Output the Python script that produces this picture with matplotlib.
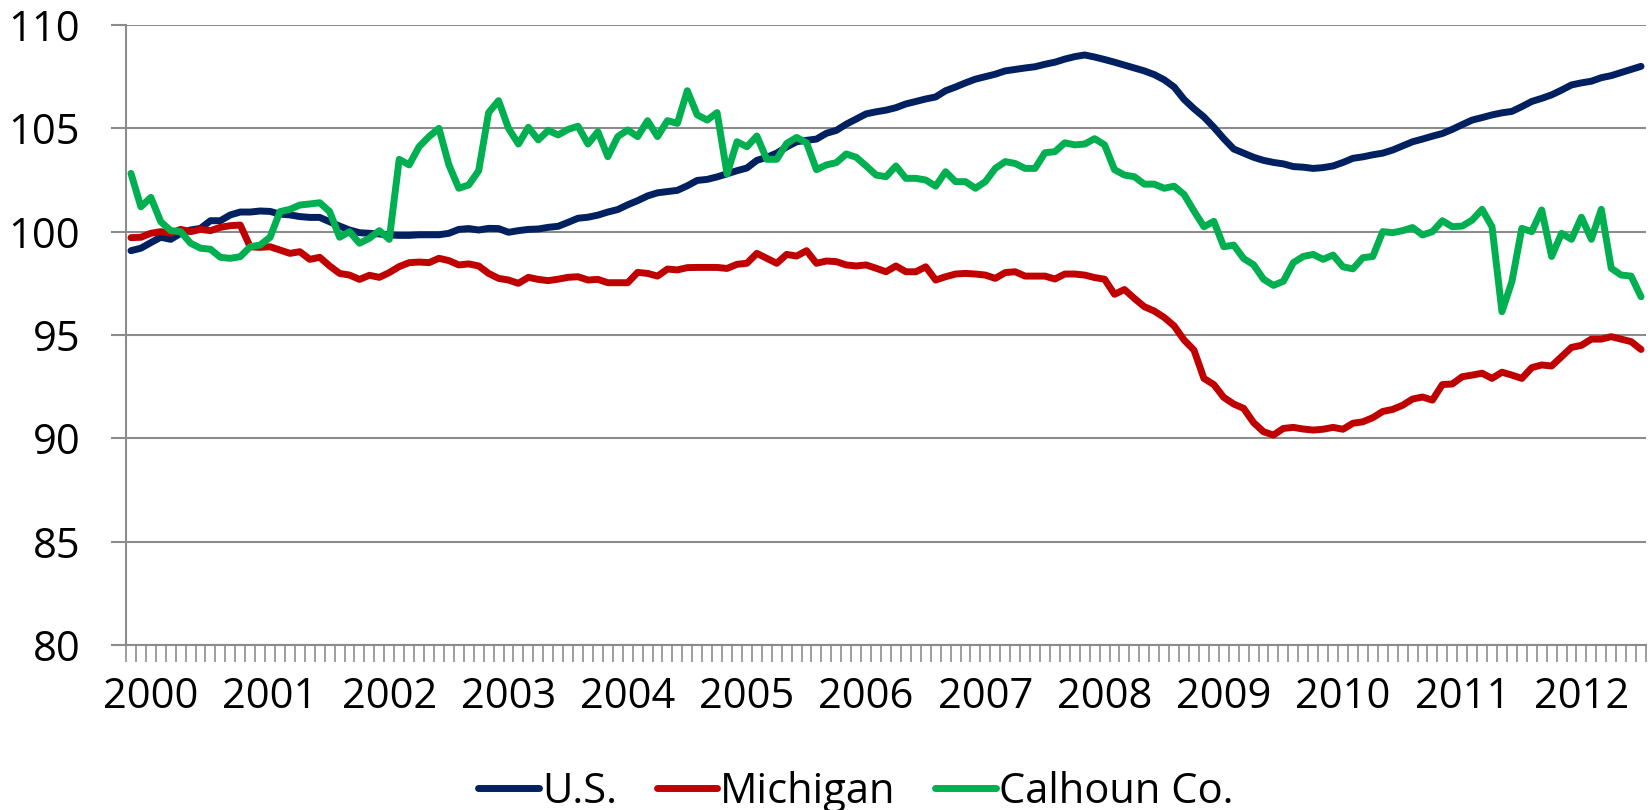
import numpy as np
import matplotlib
matplotlib.use("Agg")
import matplotlib.pyplot as plt

# monthly index, Jan 2000 .. Sep 2012
years = [str(y) for y in range(2000, 2013)]

us = [
    99.08, 99.20, 99.47, 99.73, 99.63, 99.92, 100.08, 100.16, 100.53, 100.53, 100.81, 100.95,
    100.95, 101.00, 100.98, 100.85, 100.81, 100.73, 100.69, 100.69, 100.48, 100.27, 100.08, 99.95,
    99.92, 99.89, 99.84, 99.82, 99.82, 99.85, 99.85, 99.85, 99.92, 100.11, 100.15, 100.08,
    100.16, 100.15, 99.97, 100.05, 100.11, 100.13, 100.21, 100.26, 100.45, 100.65, 100.70, 100.80,
    100.95, 101.07, 101.30, 101.50, 101.73, 101.88, 101.94, 102.00, 102.22, 102.48, 102.53, 102.65,
    102.80, 102.95, 103.08, 103.45, 103.60, 103.80, 104.10, 104.35, 104.42, 104.48, 104.76, 104.90,
    105.20, 105.45, 105.70, 105.80, 105.88, 106.00, 106.18, 106.30, 106.42, 106.52, 106.82, 107.00,
    107.20, 107.38, 107.50, 107.62, 107.78, 107.85, 107.92, 107.98, 108.10, 108.20, 108.35, 108.47,
    108.55, 108.45, 108.33, 108.20, 108.06, 107.92, 107.78, 107.60, 107.35, 107.00, 106.40, 105.95,
    105.55, 105.05, 104.50, 104.00, 103.80, 103.60, 103.45, 103.35, 103.28, 103.15, 103.12, 103.06,
    103.10, 103.18, 103.35, 103.55, 103.62, 103.72, 103.80, 103.95, 104.15, 104.35, 104.48, 104.62,
    104.75, 104.95, 105.18, 105.40, 105.52, 105.65, 105.75, 105.82, 106.05, 106.30, 106.45, 106.62,
    106.85, 107.10, 107.20, 107.28, 107.45, 107.55, 107.70, 107.85, 108.00,
]

michigan = [
    99.71, 99.73, 99.92, 100.00, 99.92, 100.11, 100.00, 100.11, 100.05, 100.21, 100.29, 100.32,
    99.27, 99.24, 99.27, 99.11, 98.95, 99.03, 98.66, 98.76, 98.34, 97.98, 97.90, 97.69,
    97.89, 97.79, 98.02, 98.31, 98.50, 98.53, 98.50, 98.71, 98.60, 98.39, 98.44, 98.34,
    97.98, 97.74, 97.66, 97.50, 97.79, 97.69, 97.63, 97.70, 97.79, 97.82, 97.66, 97.69,
    97.53, 97.53, 97.53, 98.03, 97.98, 97.85, 98.19, 98.15, 98.26, 98.27, 98.27, 98.27,
    98.22, 98.42, 98.47, 98.95, 98.71, 98.47, 98.90, 98.82, 99.08, 98.47, 98.58, 98.55,
    98.39, 98.34, 98.39, 98.23, 98.06, 98.34, 98.06, 98.06, 98.30, 97.66, 97.82, 97.95,
    97.98, 97.95, 97.90, 97.74, 98.02, 98.06, 97.85, 97.85, 97.85, 97.71, 97.95, 97.95,
    97.90, 97.78, 97.70, 96.97, 97.20, 96.77, 96.37, 96.16, 95.85, 95.44, 94.76, 94.27,
    92.90, 92.60, 91.98, 91.66, 91.45, 90.76, 90.32, 90.16, 90.48, 90.53, 90.45, 90.40,
    90.44, 90.53, 90.44, 90.73, 90.80, 91.00, 91.30, 91.40, 91.60, 91.90, 92.00, 91.85,
    92.60, 92.63, 92.98, 93.06, 93.15, 92.90, 93.20, 93.06, 92.90, 93.42, 93.55, 93.50,
    93.95, 94.40, 94.50, 94.80, 94.80, 94.92, 94.80, 94.68, 94.30,
]

calhoun = [
    102.82, 101.20, 101.66, 100.48, 100.05, 100.00, 99.44, 99.20, 99.15, 98.76, 98.71, 98.79,
    99.27, 99.35, 99.73, 100.97, 101.08, 101.29, 101.34, 101.40, 100.97, 99.73, 100.00, 99.44,
    99.68, 100.05, 99.63, 103.50, 103.23, 104.11, 104.60, 105.00, 103.23, 102.10, 102.26, 102.95,
    105.76, 106.34, 105.00, 104.24, 105.05, 104.44, 104.90, 104.68, 104.95, 105.10, 104.24, 104.84,
    103.63, 104.60, 104.92, 104.60, 105.37, 104.60, 105.37, 105.24, 106.82, 105.65, 105.40, 105.76,
    102.79, 104.35, 104.11, 104.63, 103.50, 103.50, 104.27, 104.56, 104.30, 103.00, 103.23, 103.34,
    103.76, 103.60, 103.18, 102.74, 102.66, 103.18, 102.58, 102.58, 102.50, 102.20, 102.90, 102.42,
    102.42, 102.10, 102.42, 103.06, 103.39, 103.30, 103.06, 103.06, 103.82, 103.87, 104.30, 104.20,
    104.24, 104.50, 104.20, 103.00, 102.74, 102.66, 102.30, 102.30, 102.10, 102.20, 101.80, 101.00,
    100.24, 100.50, 99.27, 99.35, 98.70, 98.40, 97.70, 97.40, 97.60, 98.50, 98.80, 98.90,
    98.66, 98.87, 98.30, 98.20, 98.74, 98.80, 100.00, 99.95, 100.05, 100.20, 99.84, 100.00,
    100.53, 100.24, 100.27, 100.56, 101.08, 100.24, 96.13, 97.58, 100.16, 100.00, 101.05, 98.80,
    99.92, 99.63, 100.70, 99.63, 101.08, 98.23, 97.90, 97.85, 96.85,
]

plt.rcParams['font.family'] = ['Open Sans', 'DejaVu Sans']

n = len(us)
x = np.arange(n)

fig = plt.figure(figsize=(16.5, 8.1), dpi=100)
ax = fig.add_axes([126 / 1650, 1 - 645 / 810, 1520 / 1650, 620 / 810])

line_kw = dict(lw=5, solid_joinstyle='round', solid_capstyle='round')
ax.plot(x, us, color='#002060', label='U.S.', **line_kw)
ax.plot(x, michigan, color='#C00000', label='Michigan', **line_kw)
ax.plot(x, calhoun, color='#00B050', label='Calhoun Co.', **line_kw)

ax.set_xlim(-0.5, n - 0.5)
ax.set_ylim(80, 110)

# y axis: gridlines every 5
grid_c = '#8c8c8c'
ax.set_yticks(np.arange(80, 111, 5))
ax.yaxis.grid(True, color=grid_c, lw=1.5)
ax.set_axisbelow(True)
ax.tick_params(axis='y', length=11, width=1.5, color=grid_c, pad=22, labelsize=30)

# x axis: a tick between every month, year labels
ax.set_xticks(np.arange(-0.5, n, 1))
ax.set_xticklabels([])
ax.set_xticks(np.arange(len(years)) * 12 + 2, minor=True)
ax.set_xticklabels(years, minor=True)
ax.tick_params(axis='x', which='major', length=12, width=1.2, color=grid_c, direction='out')
ax.tick_params(axis='x', which='minor', length=0, pad=22, labelsize=30)

for s in ['top', 'right']:
    ax.spines[s].set_visible(False)
for s in ['left', 'bottom']:
    ax.spines[s].set_color(grid_c)
    ax.spines[s].set_linewidth(1.5)

fig.legend(loc='center', bbox_to_anchor=(856 / 1650, 1 - 792 / 810), ncol=3, frameon=False,
           fontsize=30, handlelength=1.45, handletextpad=0.08, columnspacing=0.95)

fig.savefig('out.png', dpi=100)
